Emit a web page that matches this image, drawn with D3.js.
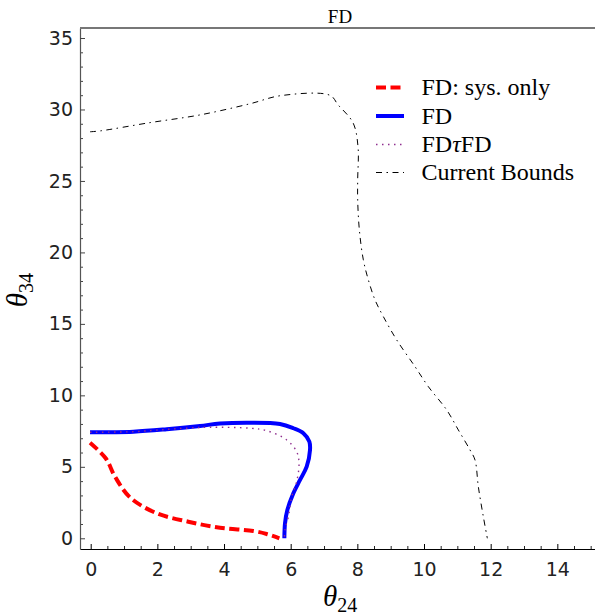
<!DOCTYPE html>
<html><head><meta charset="utf-8">
<script src="https://cdn.jsdelivr.net/npm/d3@7"></script>
<style>body{margin:0;background:#fff}svg{display:block}</style>
</head><body>
<svg id="c" width="595" height="615"></svg>
<script>
// ---- data ----
const xTicks = [0, 2, 4, 6, 8, 10, 12, 14];
const yTicks = [0, 5, 10, 15, 20, 25, 30, 35];
const legendLabels = ["FD: sys. only", "FD", "FD\u03C4FD", "Current Bounds"];

const sysOnly = [[-0.02,6.69],[0.45,5.6],[0.73,4.31],[1.18,2.86],[1.98,1.75],[2.93,1.16],[3.88,0.74],[4.88,0.51],[5.28,0.3],[5.66,0.0]];
const fd = [[-0.02,7.42],[1.28,7.46],[2.28,7.63],[3.28,7.86],[3.88,8.03],[4.78,8.09],[5.68,8.0],[6.08,7.7],[6.38,7.35],[6.56,6.76],[6.58,6.18],[6.48,5.01],[6.28,4.08],[6.08,3.15],[5.9,1.98],[5.83,1.05],[5.81,0.0]];
const fdTauFd = [[-0.02,7.42],[1.28,7.46],[2.28,7.62],[3.0,7.72],[3.58,7.77],[4.78,7.7],[5.28,7.53],[5.88,6.88],[6.18,6.06],[6.25,5.25],[6.18,3.96],[6.03,2.91],[5.93,1.51],[5.83,0.6],[5.81,0.0]];
const currentBounds = [[-0.02,28.44],[0.28,28.5],[1.78,29.08],[3.28,29.62],[4.78,30.4],[5.71,30.97],[7.18,30.99],[7.42,30.33],[7.87,29.07],[8.02,27.39],[8.01,25.08],[8.01,23.68],[8.06,21.58],[8.18,19.48],[8.33,18.08],[8.53,16.68],[8.78,15.51],[9.18,13.88],[9.73,12.01],[10.13,10.61],[10.68,8.98],[11.03,7.58],[11.38,6.18],[11.53,5.48],[11.63,3.61],[11.78,1.51],[11.9,0.0]];

// ---- layout ----
const svg = d3.select("#c");
const L = 80, R = 595, T = 28, B = 549;
const x = d3.scaleLinear().domain([-0.321, 15.13]).range([L, R]);
const y = d3.scaleLinear().domain([-0.749, 35.7]).range([B, T]);

const styles = [
  {data: sysOnly, color: "#ff0000", width: 4, dash: "10,4.5"},
  {data: fd, color: "#0000ff", width: 4, dash: null},
  {data: fdTauFd, color: "#8f2f8f", width: 1.4, dash: "1.5,4.5"},
  {data: currentBounds, color: "#000", width: 1, dash: "6,4.5,1.5,4.5"}
];

// minor ticks
const xMinor = d3.range(0, 15.01, 0.5).filter(v => !xTicks.includes(v));
const yMinor = d3.range(0, 35.01, 1).filter(v => !yTicks.includes(v));

svg.append("g").attr("transform", `translate(0,${B})`)
  .call(d3.axisBottom(x).tickValues(xMinor).tickSize(-3).tickSizeOuter(0).tickFormat(""))
  .call(g => g.select(".domain").remove())
  .selectAll("line").attr("stroke", "#222");
svg.append("g").attr("transform", `translate(${L},0)`)
  .call(d3.axisLeft(y).tickValues(yMinor).tickSize(-3).tickSizeOuter(0).tickFormat(""))
  .call(g => g.select(".domain").remove())
  .selectAll("line").attr("stroke", "#444");

const xa = svg.append("g").attr("transform", `translate(0,${B})`)
  .call(d3.axisBottom(x).tickValues(xTicks).tickSize(-5).tickSizeOuter(0).tickPadding(14));
xa.select(".domain").attr("stroke", "#000").attr("stroke-width", 1.2);
xa.selectAll("text").attr("font-family", "DejaVu Sans").attr("font-size", 19).attr("fill", "#222");

const ya = svg.append("g").attr("transform", `translate(${L},0)`)
  .call(d3.axisLeft(y).tickValues(yTicks).tickSize(-5).tickSizeOuter(0).tickPadding(7));
ya.select(".domain").attr("stroke", "#555").attr("stroke-width", 1.2);
ya.selectAll("line").attr("stroke", "#444");
ya.selectAll("text").attr("font-family", "DejaVu Sans").attr("font-size", 19).attr("fill", "#222");

// top frame line
svg.append("line").attr("x1", L).attr("x2", R).attr("y1", T).attr("y2", T)
  .attr("stroke", "#777").attr("stroke-width", 2);

// title
svg.append("text").attr("x", 340).attr("y", 22.5).attr("text-anchor", "middle")
  .attr("font-family", "Liberation Serif").attr("font-size", 19).text("FD");

// curves
const line = d3.line().x(d => x(d[0])).y(d => y(d[1])).curve(d3.curveCatmullRom.alpha(0.5));
const plot = svg.append("g");
[3, 0, 1, 2].forEach(i => {
  const s = styles[i];
  plot.append("path").attr("d", line(s.data)).attr("fill", "none")
    .attr("stroke", s.color).attr("stroke-width", s.width)
    .attr("stroke-dasharray", s.dash).attr("stroke-linejoin", "round");
});

// legend
const baselines = [95, 123.5, 152, 180];
legendLabels.forEach((lab, i) => {
  const s = styles[i];
  const ly = baselines[i] - 7.5;
  svg.append("line").attr("x1", 376).attr("x2", 404).attr("y1", ly).attr("y2", ly)
    .attr("stroke", s.color).attr("stroke-width", s.width).attr("stroke-dasharray", s.dash);
  const t = svg.append("text").attr("x", 421.5).attr("y", baselines[i])
    .attr("font-family", "Liberation Serif").attr("font-size", 24);
  if (i === 2) {
    t.append("tspan").text("FD");
    t.append("tspan").attr("font-style", "italic").text("\u03C4");
    t.append("tspan").text("FD");
  } else t.text(lab);
});

// axis labels
const xl = svg.append("text").attr("x", 323).attr("y", 606)
  .attr("font-family", "Liberation Serif").attr("font-size", 29);
xl.append("tspan").attr("font-style", "italic").text("\u03B8");
xl.append("tspan").attr("font-size", 20).attr("dy", 6).text("24");

const yl = svg.append("text").attr("transform", "translate(27,290) rotate(-90)")
  .attr("text-anchor", "middle")
  .attr("font-family", "Liberation Serif").attr("font-size", 29);
yl.append("tspan").attr("font-style", "italic").text("\u03B8");
yl.append("tspan").attr("font-size", 20).attr("dy", 6).text("34");
</script>
</body></html>
